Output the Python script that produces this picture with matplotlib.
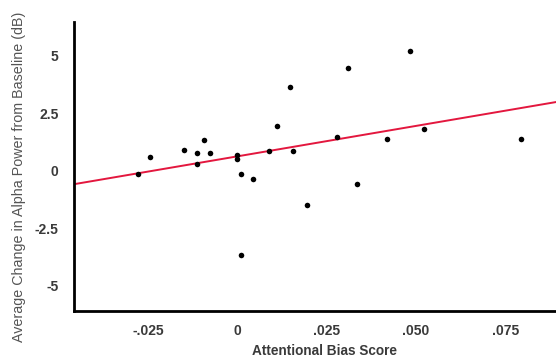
import numpy as np
import matplotlib as mpl
mpl.use("Agg")
import matplotlib.pyplot as plt

# attentional bias score vs change in alpha power (dB)
bias = [-0.0280, -0.0244, -0.0149, -0.0114, -0.0114, -0.0093, -0.0077,
        -0.0001, -0.0002, 0.0009, 0.0043, 0.0011, 0.0088, 0.0112, 0.0147,
        0.0156, 0.0194, 0.0279, 0.0310, 0.0336, 0.0418, 0.0484, 0.0522, 0.0795]
alpha_db = [-0.15, 0.60, 0.92, 0.77, 0.31, 1.33, 0.79,
            0.67, 0.53, -0.14, -0.38, -3.66, 0.85, 1.93, 3.64,
            0.86, -1.50, 1.45, 4.48, -0.59, 1.40, 5.20, 1.81, 1.40]

xticks = [-0.025, 0, 0.025, 0.050, 0.075]
xticklabels = ["-.025", "0", ".025", ".050", ".075"]
yticks = [-5, -2.5, 0, 2.5, 5]
yticklabels = ["-5", "-2.5", "0", "2.5", "5"]

plt.rcParams["font.family"] = ["Liberation Sans", "DejaVu Sans"]
TXT = "#3a3a3a"

fig = plt.figure(figsize=(5.56, 3.56), dpi=100)
ax = fig.add_axes([0.133, 0.126, 0.867, 0.812])

ax.scatter(bias, alpha_db, s=16, color="black", zorder=3, linewidths=0)

# least-squares fit line across the full x range
xlim = (-0.0458, 0.0892)
slope, icpt = np.polyfit(bias, alpha_db, 1)
xs = np.array(xlim)
ax.plot(xs, slope * xs + icpt, color="#e3173e", lw=1.4, zorder=2)

ax.set_xlim(*xlim)
ax.set_ylim(-6.1, 6.46)
ax.set_xticks(xticks)
ax.set_xticklabels(xticklabels)
ax.set_yticks(yticks)
ax.set_yticklabels(yticklabels)
ax.tick_params(length=0, labelsize=10, colors=TXT)
ax.tick_params(axis="y", pad=11)
ax.tick_params(axis="x", pad=9)
for lab in ax.get_xticklabels() + ax.get_yticklabels():
    lab.set_fontweight("bold")

for s in ["top", "right"]:
    ax.spines[s].set_visible(False)
for s in ["left", "bottom"]:
    ax.spines[s].set_linewidth(2)
    ax.spines[s].set_color("black")

ax.set_xlabel("Attentional Bias Score", fontsize=9.8, fontweight="bold", color=TXT, va="top")
ax.xaxis.set_label_coords(0.52, -0.112)
ax.set_ylabel("Average Change in Alpha Power from Baseline (dB)", fontsize=10.3, color="#555555")
ax.yaxis.set_label_coords(-0.10, 0.465)

fig.savefig("out.png", dpi=100)
